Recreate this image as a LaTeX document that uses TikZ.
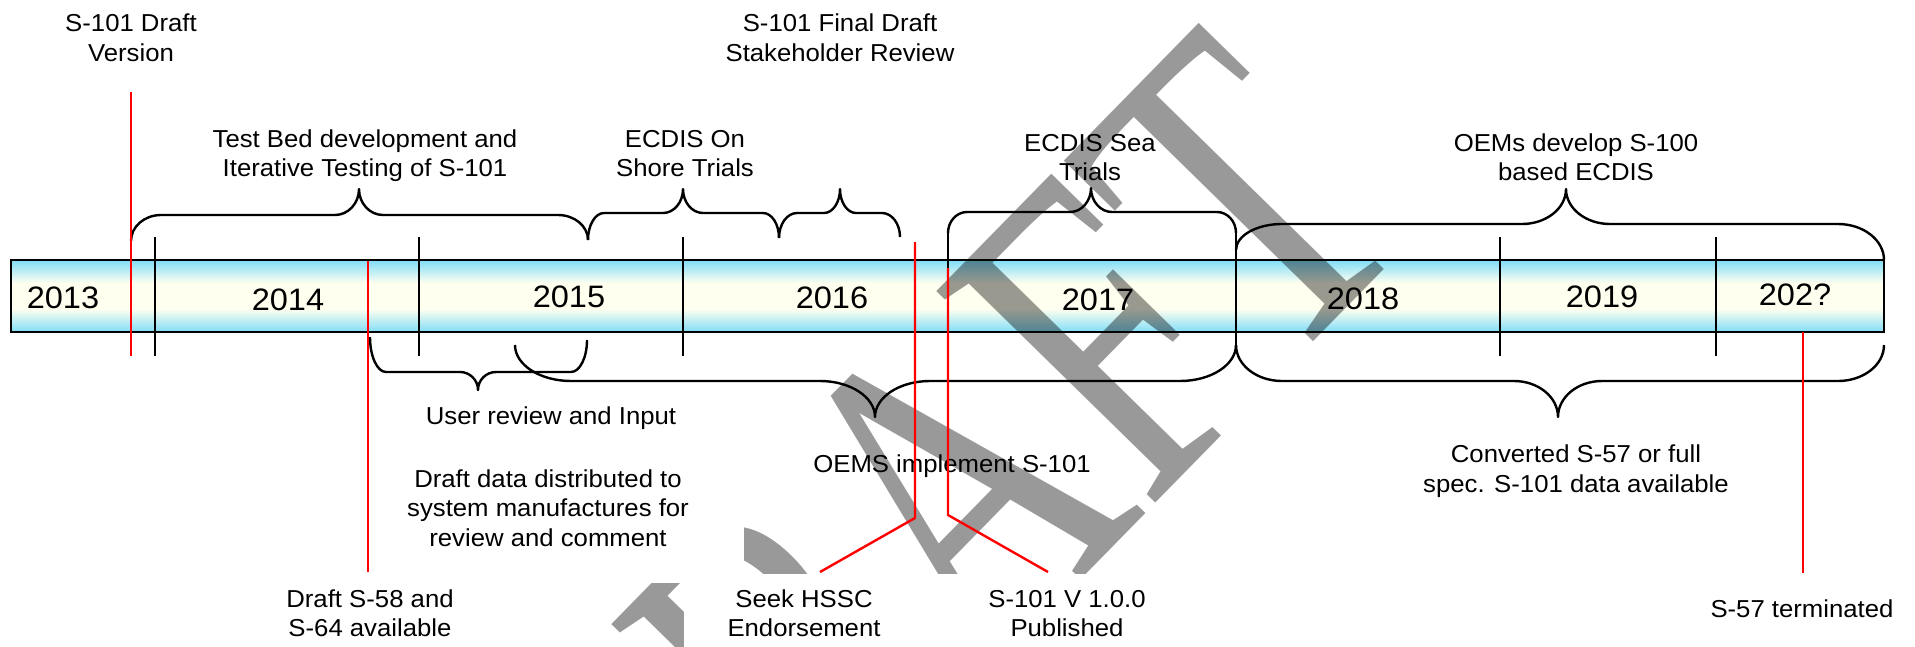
\documentclass[tikz,border=0pt]{standalone}
\usepackage{fontspec}
\setmainfont{Liberation Sans}[FakeStretch=1.05]
\newfontfamily\wmfont{Liberation Serif}[FakeStretch=0.72]
\definecolor{barblue}{RGB}{128,221,248}
\definecolor{barivory}{RGB}{255,255,240}
\definecolor{tlred}{RGB}{255,0,0}
\pgfdeclareverticalshading{barshade}{100bp}{color(0bp)=(barblue); color(25bp)=(barblue); color(41bp)=(barivory); color(59bp)=(barivory); color(75bp)=(barblue); color(100bp)=(barblue)}
\tikzset{
  tlline/.style={line width=2.4pt, draw=black},
  bracestyle/.style={line width=2.4pt, draw=black, line join=round},
  redline/.style={line width=2.4pt, draw=tlred},
  lbl/.style={font=\fontsize{24.5}{29.5}\selectfont, align=center, inner sep=0pt, anchor=base},
  yr/.style={font=\fontsize{31}{36}\selectfont, inner sep=0pt, anchor=base},
  wmark/.style={font=\wmfont\fontsize{465}{465}\selectfont, text=black, inner sep=0pt, anchor=base west, rotate=45.6},
}
\newcommand{\tlbrace}[9]{%
\pgfmathsetmacro\kA{#2+0.552*(#5-#2)}%
\pgfmathsetmacro\kB{#1+#8-0.552*#8}%
\pgfmathsetmacro\kC{#1+#8}%
\pgfmathsetmacro\kD{#6-#9}%
\pgfmathsetmacro\kE{#6-#9+0.552*#9}%
\pgfmathsetmacro\kF{#7+0.552*(#5-#7)}%
\pgfmathsetmacro\kG{#6+#9-0.552*#9}%
\pgfmathsetmacro\kH{#6+#9}%
\pgfmathsetmacro\kI{#3-#8}%
\pgfmathsetmacro\kJ{#3-#8+0.552*#8}%
\pgfmathsetmacro\kK{#4+0.552*(#5-#4)}%
\draw[bracestyle] (#1,#2) .. controls (#1,\kA) and (\kB,#5) .. (\kC,#5) -- (\kD,#5) .. controls (\kE,#5) and (#6,\kF) .. (#6,#7) .. controls (#6,\kF) and (\kG,#5) .. (\kH,#5) -- (\kI,#5) .. controls (\kJ,#5) and (#3,\kK) .. (#3,#4);
}
\begin{document}
\begin{tikzpicture}[x=1pt,y=-1pt]
\useasboundingbox (0,0) rectangle (1915,646);
% timeline bar fill
\coordinate (barNW) at (11,260);
\coordinate (barSE) at (1884,332);
\shade[shading=barshade] (barNW) rectangle (barSE);
% watermark, kept out of the two white label areas
\begin{scope}
\clip (0,0) -- (1915,0) -- (1915,646) -- (1175,646) -- (1175,573) -- (744,573) -- (744,440) -- (395,440) -- (395,583) -- (683,583) -- (683,646) -- (0,646) -- cycle;
\begin{scope}[transparency group, opacity=0.4]
\node[wmark] (wm) at (653,1017) {DRAFT};
\end{scope}
\end{scope}
% bar outline and year dividers
\draw[tlline] (barNW) rectangle (barSE);
\foreach \x in {155,419,683,1500,1716}{\draw[tlline] (\x,237) -- (\x,356);}
% year labels
\node[yr] (y2013) at (63,308) {2013};
\node[yr] (y2014) at (288,310) {2014};
\node[yr] (y2015) at (569,307) {2015};
\node[yr] (y2016) at (832,308) {2016};
\node[yr] (y2017) at (1098,310) {2017};
\node[yr] (y2018) at (1363,309) {2018};
\node[yr] (y2019) at (1602,307) {2019};
\node[yr] (y202x) at (1795,305) {202?};
% braces above
\tlbrace{131}{241}{588}{240}{215}{359}{189}{30}{24}
\tlbrace{588}{240}{779}{238}{213}{683}{189}{16}{20}
\tlbrace{779}{238}{900}{237}{213}{840}{189}{18}{16}
\tlbrace{948}{233}{1236}{233}{212}{1091}{188}{19}{21}
\draw[bracestyle] (948,233) -- (948,268);
\draw[bracestyle] (1236,233) -- (1236,345);
\tlbrace{1236}{250}{1884}{260}{224}{1566}{189}{46}{44}
% braces below
\tlbrace{370}{337}{587}{340}{372}{478}{390}{16}{18}
\tlbrace{515}{345}{1236}{345}{381}{875}{417}{56}{55}
\tlbrace{1236}{345}{1884}{345}{381}{1558}{417}{46}{44}
% labels (anchor = baseline of the last line)
\node[lbl] (lDraftVer) at (131,61) {S-101 Draft\\Version};
\node[lbl] (lTestBed) at (365,176.5) {Test Bed development and\\Iterative Testing of S-101};
\node[lbl] (lFinal) at (840,61) {S-101 Final Draft\\Stakeholder Review};
\node[lbl] (lOnShore) at (685,176.5) {ECDIS On\\Shore Trials};
\node[lbl] (lSea) at (1090,180.5) {ECDIS Sea\\Trials};
\node[lbl] (lOemDev) at (1576,180.5) {OEMs develop S-100\\based ECDIS};
\node[lbl] (lUser) at (551,424) {User review and Input};
\node[lbl] (lDraftData) at (548,546) {Draft data distributed to\\system manufactures for\\review and comment};
\node[lbl] (lOems) at (952,472) {OEMS implement S-101};
\node[lbl] (lS58) at (370,636.5) {Draft S-58 and\\S-64 available};
\node[lbl] (lHssc) at (804,636.5) {Seek HSSC\\Endorsement};
\node[lbl] (lPub) at (1067,636.5) {S-101 V 1.0.0\\Published};
\node[lbl] (lConv) at (1576,492) {Converted S-57 or full\\spec. S-101 data available};
\node[lbl] (lS57) at (1802,617) {S-57 terminated};
% milestone connectors
\coordinate (m1a) at (131,92);   \coordinate (m1b) at (131,356);
\coordinate (m2a) at (368,261);  \coordinate (m2b) at (368,572);
\coordinate (m3a) at (915,242);  \coordinate (m3k) at (915,518);  \coordinate (m3b) at (820,572);
\coordinate (m4a) at (948,268);  \coordinate (m4k) at (948,515);  \coordinate (m4b) at (1048,572);
\coordinate (m5a) at (1803,332); \coordinate (m5b) at (1803,573);
\draw[redline] (m1a) -- (m1b);
\draw[redline] (m2a) -- (m2b);
\draw[redline] (m3a) -- (m3k) -- (m3b);
\draw[redline] (m4a) -- (m4k) -- (m4b);
\draw[redline] (m5a) -- (m5b);
\end{tikzpicture}
\end{document}
